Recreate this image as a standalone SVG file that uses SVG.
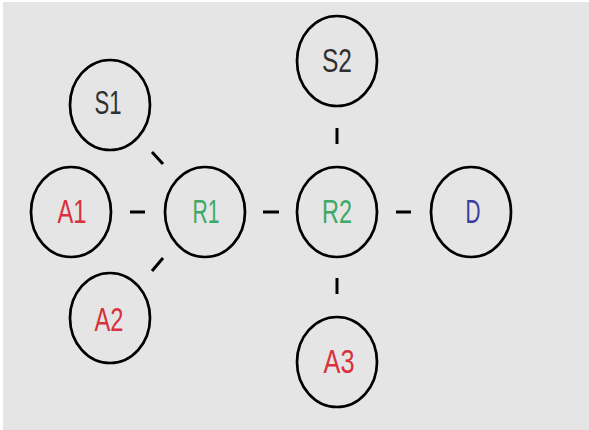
<svg xmlns="http://www.w3.org/2000/svg" width="589" height="430" viewBox="0 0 589 430">
<style>
.n{fill:none;stroke:#000;stroke-width:2.7}
.t{font-family:"Liberation Sans",Arial,sans-serif;font-size:33px;text-anchor:middle}
.red{fill:#d8313d}.grn{fill:#3fa866}.blu{fill:#3c3c9c}.blk{fill:#303030}
.c line{stroke:#000;stroke-width:3}
</style>
<rect x="0" y="0" width="589" height="430" fill="#fff"/>
<rect x="3" y="2" width="586" height="428" fill="#e5e5e5"/>
<g class="c" id="connectors">
<line x1="130" y1="212" x2="145" y2="212"/>
<line x1="263" y1="212" x2="279" y2="212"/>
<line x1="396" y1="212" x2="411" y2="212"/>
<line x1="337" y1="128" x2="337" y2="144"/>
<line x1="337" y1="278" x2="337" y2="294"/>
<line x1="152" y1="152" x2="163" y2="164"/>
<line x1="163" y1="258" x2="152" y2="271"/>
</g>
<g id="S1"><ellipse class="n" cx="110" cy="105" rx="40" ry="45"/><text class="t blk" x="108" y="114" textLength="27" lengthAdjust="spacingAndGlyphs">S1</text></g>
<g id="A1"><ellipse class="n" cx="71" cy="212" rx="40" ry="45"/><text class="t red" x="72" y="223" textLength="29" lengthAdjust="spacingAndGlyphs">A1</text></g>
<g id="A2"><ellipse class="n" cx="110" cy="318" rx="40" ry="45"/><text class="t red" x="109" y="331" textLength="29" lengthAdjust="spacingAndGlyphs">A2</text></g>
<g id="R1"><ellipse class="n" cx="205" cy="212" rx="40" ry="45"/><text class="t grn" x="206" y="223" textLength="27" lengthAdjust="spacingAndGlyphs">R1</text></g>
<g id="R2"><ellipse class="n" cx="337" cy="212" rx="40" ry="45"/><text class="t grn" x="337" y="223" textLength="30" lengthAdjust="spacingAndGlyphs">R2</text></g>
<g id="S2"><ellipse class="n" cx="337" cy="61" rx="40" ry="45"/><text class="t blk" x="337" y="72" textLength="30" lengthAdjust="spacingAndGlyphs">S2</text></g>
<g id="A3"><ellipse class="n" cx="337" cy="362" rx="40" ry="45"/><text class="t red" x="339" y="373" textLength="31" lengthAdjust="spacingAndGlyphs">A3</text></g>
<g id="D"><ellipse class="n" cx="471" cy="212" rx="40" ry="45"/><text class="t blu" x="473" y="223" textLength="15" lengthAdjust="spacingAndGlyphs">D</text></g>
</svg>
